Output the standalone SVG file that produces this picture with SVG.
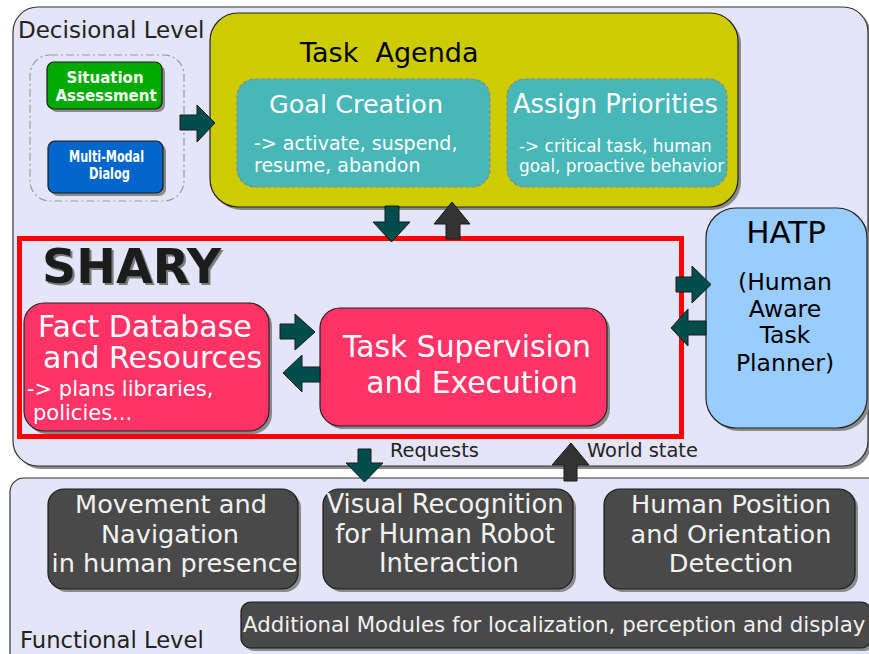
<svg xmlns="http://www.w3.org/2000/svg" width="869" height="654" viewBox="0 0 869 654">
<defs>
  <filter id="textShadow" x="-10%" y="-10%" width="130%" height="140%">
    <feOffset in="SourceAlpha" dx="2" dy="2" result="off"/>
    <feFlood flood-color="#7a7a7a"/>
    <feComposite in2="off" operator="in" result="sh"/>
    <feMerge><feMergeNode in="sh"/><feMergeNode in="SourceGraphic"/></feMerge>
  </filter>
</defs>
<style>
text{font-family:"DejaVu Sans","Noto Sans",sans-serif}
.panel{fill:#e5e5fa;stroke:#333;stroke-width:1.2}
.shadow{fill:#8a8a8a}
.agenda{fill:#cccc00;stroke:#222;stroke-width:1.2}
.teal{fill:#47b7b7;stroke:#8a8a8a;stroke-width:1.2;stroke-dasharray:4,2}
.pink{fill:#ff3366;stroke:#222;stroke-width:1.2}
.dark{fill:#494949;stroke:#1a1a1a;stroke-width:1.2}
.white{fill:#ffffff}
.light{fill:#f2f2f2}
.arrowT{fill:#004d4d;stroke:#1a1a1a;stroke-width:1}
.arrowG{fill:#333333;stroke:#1a1a1a;stroke-width:1}
</style>

<g id="decisional-level">
  <rect class="shadow" x="16" y="10" width="855" height="459" rx="25"/>
  <rect class="panel" x="13" y="7" width="855" height="459" rx="25"/>
  <text x="18" y="38" font-size="23" fill="#222">Decisional Level</text>
</g>

<g id="functional-level">
  <rect class="panel" x="10" y="478" width="880" height="200" rx="14"/>
  <text x="20" y="648" font-size="22.7" fill="#222">Functional Level</text>
</g>

<g id="input-group">
  <rect x="30" y="55" width="154" height="146" rx="20" fill="none" stroke="#999" stroke-width="1.2" stroke-dasharray="8,3,2,3"/>
</g>

<g id="situation-assessment">
  <rect class="shadow" x="50" y="65" width="115" height="47" rx="7"/>
  <rect x="47" y="62" width="115" height="47" rx="7" fill="#00aa00" stroke="#1a1a1a" stroke-width="1.2"/>
  <text x="105" y="83" font-size="15" font-weight="bold" fill="#fff" text-anchor="middle">Situation</text>
  <text x="106" y="101" font-size="15" font-weight="bold" fill="#fff" text-anchor="middle">Assessment</text>
</g>

<g id="multi-modal-dialog">
  <rect class="shadow" x="51" y="144" width="115" height="52" rx="7"/>
  <rect x="48" y="141" width="115" height="52" rx="7" fill="#0066cc" stroke="#1a1a1a" stroke-width="1.2"/>
  <text x="106.5" y="162" font-size="15.5" font-weight="bold" fill="#fff" text-anchor="middle" textLength="75" lengthAdjust="spacingAndGlyphs">Multi-Modal</text>
  <text x="109.5" y="179" font-size="15.5" font-weight="bold" fill="#fff" text-anchor="middle" textLength="41" lengthAdjust="spacingAndGlyphs">Dialog</text>
</g>

<g id="task-agenda">
  <rect class="shadow" x="213" y="16" width="528" height="194" rx="28"/>
  <rect class="agenda" x="210" y="13" width="528" height="194" rx="28"/>
  <text x="300" y="62" font-size="27" fill="#000" xml:space="preserve">Task  Agenda</text>
</g>

<g id="goal-creation">
  <rect class="teal" x="237" y="79" width="253" height="108" rx="18"/>
  <text x="269" y="113" font-size="25.5" class="white">Goal Creation</text>
  <text x="254" y="150" font-size="19" class="white">-&gt; activate, suspend,</text>
  <text x="254" y="172" font-size="19" class="white">resume, abandon</text>
</g>

<g id="assign-priorities">
  <rect class="teal" x="507" y="79" width="220" height="108" rx="18"/>
  <text x="513" y="113" font-size="25.7" class="white">Assign Priorities</text>
  <text x="519" y="152" font-size="16.9" class="white">-&gt; critical task, human</text>
  <text x="519" y="172" font-size="16.9" class="white">goal, proactive behavior</text>
</g>

<g id="shary">
  <rect x="19.5" y="238.5" width="662" height="198" fill="none" stroke="#ff0000" stroke-width="5"/>
  <text x="42" y="283" font-size="47.5" font-weight="bold" fill="#1a1a1a" filter="url(#textShadow)">SHARY</text>
</g>

<g id="fact-database">
  <rect class="shadow" x="27" y="306" width="245" height="128" rx="20"/>
  <rect class="pink" x="24" y="303" width="245" height="128" rx="20"/>
  <text x="38" y="337" font-size="30" class="white">Fact Database</text>
  <text x="43" y="368" font-size="30" class="white">and Resources</text>
  <text x="27" y="396" font-size="21" class="white">-&gt; plans libraries,</text>
  <text x="33" y="420" font-size="21" class="white">policies...</text>
</g>

<g id="task-supervision">
  <rect class="shadow" x="323" y="311" width="287" height="118" rx="20"/>
  <rect class="pink" x="320" y="308" width="287" height="118" rx="20"/>
  <text x="467" y="357" font-size="29.8" class="white" text-anchor="middle">Task Supervision</text>
  <text x="472" y="393" font-size="29.8" class="white" text-anchor="middle">and Execution</text>
</g>

<g id="hatp">
  <rect class="shadow" x="709" y="211" width="161" height="220" rx="30"/>
  <rect x="706" y="208" width="161" height="220" rx="30" fill="#99ccff" stroke="#222" stroke-width="1.2"/>
  <text x="786" y="243" font-size="31" fill="#000" text-anchor="middle">HATP</text>
  <text x="785" y="290" font-size="23.5" fill="#000" text-anchor="middle">(Human</text>
  <text x="785" y="317" font-size="23.5" fill="#000" text-anchor="middle">Aware</text>
  <text x="785" y="343" font-size="23.5" fill="#000" text-anchor="middle">Task</text>
  <text x="785" y="371" font-size="23.5" fill="#000" text-anchor="middle">Planner)</text>
</g>

<g id="movement-navigation">
  <rect class="shadow" x="51" y="492" width="250" height="100" rx="16"/>
  <rect class="dark" x="48" y="489" width="250" height="100" rx="16"/>
  <text x="171" y="513" font-size="25.6" class="light" text-anchor="middle">Movement and</text>
  <text x="170" y="543" font-size="25.6" class="light" text-anchor="middle">Navigation</text>
  <text x="174.5" y="572" font-size="25.6" class="light" text-anchor="middle">in human presence</text>
</g>

<g id="visual-recognition">
  <rect class="shadow" x="326" y="492" width="250" height="100" rx="16"/>
  <rect class="dark" x="323" y="489" width="250" height="100" rx="16"/>
  <text x="445" y="513" font-size="25.8" class="light" text-anchor="middle">Visual Recognition</text>
  <text x="445" y="543" font-size="25.8" class="light" text-anchor="middle">for Human Robot</text>
  <text x="449" y="572" font-size="25.8" class="light" text-anchor="middle">Interaction</text>
</g>

<g id="human-position">
  <rect class="shadow" x="607" y="492" width="251" height="100" rx="16"/>
  <rect class="dark" x="604" y="489" width="251" height="100" rx="16"/>
  <text x="731" y="513" font-size="25.6" class="light" text-anchor="middle">Human Position</text>
  <text x="731" y="543" font-size="25.6" class="light" text-anchor="middle">and Orientation</text>
  <text x="731" y="572" font-size="25.6" class="light" text-anchor="middle">Detection</text>
</g>

<g id="additional-modules">
  <rect class="shadow" x="244" y="605" width="630" height="46" rx="10"/>
  <rect class="dark" x="241" y="602" width="630" height="46" rx="10"/>
  <text x="243" y="632" font-size="21.3" class="light">Additional Modules for localization, perception and display</text>
</g>

<g id="connectors">
  <polygon class="arrowT" points="180,115 197,115 197,105 215,123 197,142 197,130 180,130"/>
  <polygon class="arrowT" points="385,206 399,206 399,222 410,222 391.5,242 373,222 385,222"/>
  <polygon class="arrowG" points="446,239 460,239 460,224 470,224 452,202 434,224 446,224"/>
  <polygon class="arrowT" points="676,277 692,277 692,266 711,284.5 692,303 692,292 676,292"/>
  <polygon class="arrowT" points="706,321 688,321 688,309 671,328 688,346 688,335 706,335"/>
  <polygon class="arrowT" points="280,324 295,324 295,314 315,332 295,350 295,339 280,339"/>
  <polygon class="arrowT" points="320,367 302,367 302,355 283,373 302,392 302,382 320,382"/>
  <polygon class="arrowT" points="358,449 371,449 371,463 383,463 364.5,482 346,463 358,463"/>
  <polygon class="arrowG" points="564,481 577,481 577,465 589,465 571,443 552,465 564,465"/>
  <text x="390" y="457" font-size="19.4" fill="#222">Requests</text>
  <text x="587" y="457" font-size="19.4" fill="#222">World state</text>
</g>
</svg>
